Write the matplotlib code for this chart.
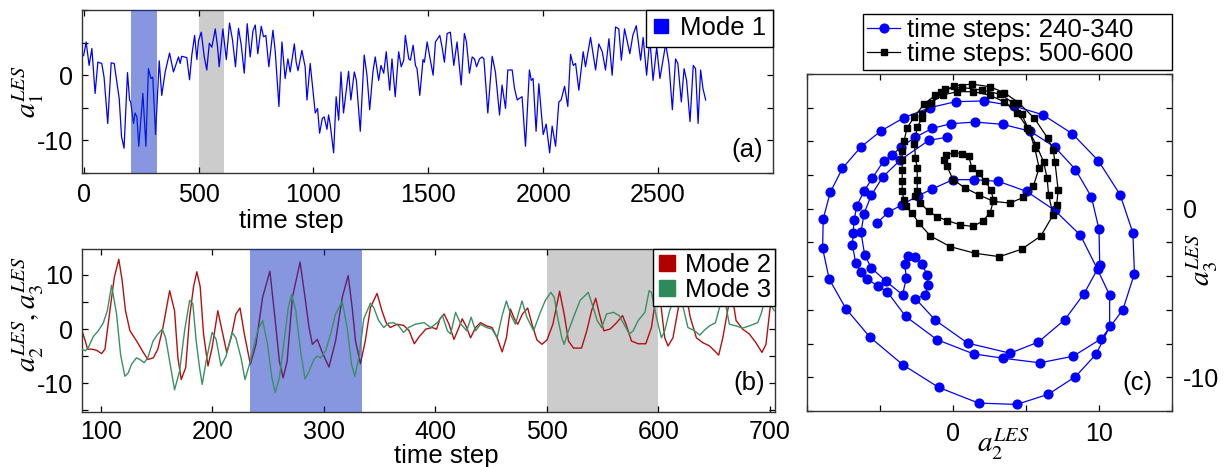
import matplotlib
matplotlib.use('Agg')
import matplotlib.pyplot as plt
from matplotlib.lines import Line2D

plt.rcParams['font.family'] = ['Liberation Sans', 'DejaVu Sans']
plt.rcParams['mathtext.fontset'] = 'stix'

# ---------------- data: panel (a) mode 1 ----------------
mode1_t = [0, 11, 24, 36, 50, 62, 79, 89, 105, 120, 133, 155, 165, 176, 191, 200, 205, 217, 224, 232,
           240, 258, 271, 282, 293, 301, 313, 329, 340, 355, 374, 391, 413, 420, 427, 449, 461, 471,
           483, 493, 500, 512, 525, 536, 547, 558, 573, 583, 590, 606, 621, 635, 648, 661, 674, 686,
           699, 712, 725, 737, 747, 758, 773, 783, 793, 806, 824, 834, 850, 863, 877, 889, 899, 917,
           925, 933, 950, 964, 972, 986, 1001, 1008, 1018, 1027, 1039, 1047, 1059, 1066, 1073, 1088,
           1099, 1110, 1120, 1131, 1153, 1163, 1178, 1187, 1204, 1221, 1233, 1245, 1259, 1269, 1284,
           1294, 1306, 1317, 1332, 1342, 1356, 1371, 1382, 1393, 1400, 1415, 1422, 1434, 1444, 1451,
           1463, 1477, 1483, 1495, 1509, 1521, 1531, 1550, 1560, 1570, 1582, 1596, 1611, 1625, 1643,
           1657, 1666, 1679, 1691, 1701, 1710, 1723, 1734, 1742, 1759, 1778, 1792, 1810, 1821, 1836,
           1846, 1865, 1875, 1887, 1894, 1908, 1923, 1940, 1948, 1956, 1969, 1981, 2000, 2013, 2028,
           2039, 2054, 2068, 2078, 2093, 2107, 2119, 2131, 2141, 2155, 2174, 2184, 2206, 2228, 2242,
           2257, 2271, 2286, 2300, 2315, 2329, 2340, 2354, 2377, 2390, 2405, 2424, 2435, 2450, 2464,
           2478, 2494, 2508, 2533, 2547, 2562, 2576, 2586, 2601, 2613, 2624, 2639, 2653, 2663, 2674,
           2685, 2695, 2707]
mode1_v = [3.0, 5.1, 1.5, 4.1, -2.8, 2.0, 1.8, -0.3, -7.4, 1.9, 1.8, -3.6, -9.4, -11.2, 0.4, -3.8, -4.1,
           -7.4, -5.8, -6.4, -10.9, -2.8, -10.9, 1.0, -0.5, -0.3, -9.1, 2.2, -3.1, 0.5, 3.4, 0.5, 2.8,
           1.8, 2.9, 2.7, -0.7, 3.1, 6.1, 2.4, 5.3, 6.6, 2.8, 0.8, 4.9, 4.3, 7.1, 4.3, 1.3, 7.1, 2.4,
           8.0, 5.4, 1.3, 7.2, 4.6, 0.3, 7.9, 2.8, 6.8, 7.7, 3.3, 7.5, 5.9, 6.1, 1.3, 6.9, 3.6, -4.8,
           5.1, -0.5, 2.5, 0.5, 4.8, 2.0, 0.7, 3.8, 1.3, -3.8, 1.8, -3.3, -5.8, -5.1, -8.9, -6.6, -6.4,
           -8.3, -6.1, -7.5, -11.9, -3.3, -6.9, 0.5, -5.8, 0.6, -3.8, 0.5, -0.8, -8.6, 3.1, 0.0, -5.3,
           0.5, 2.8, -0.8, 1.5, 0.3, 3.6, -2.3, 2.5, -3.3, 3.6, 1.3, 2.3, 6.1, 2.5, 2.3, 4.6, 1.5, 1.0,
           -3.1, 2.4, 2.0, 5.1, 2.3, 0.0, 5.1, 6.1, 4.3, 2.0, 6.4, 6.6, 1.5, 5.1, -1.5, 6.4, 5.1, 0.3,
           2.8, 2.5, 1.3, 2.5, 2.8, 2.5, -5.8, 2.9, 0.5, -6.1, -1.5, -5.1, 0.8, 0.8, -2.0, -3.8, -3.6,
           -3.3, -10.9, 0.8, -0.8, -0.5, -8.6, -1.3, -9.1, -7.5, -11.9, -7.8, -10.9, -4.1, -3.8, -1.7,
           -4.8, 3.2, 1.5, 1.8, -2.3, 3.6, 1.3, 5.8, 0.8, 4.8, 3.6, 0.8, 5.6, 0.0, 7.4, 7.1, 2.3, 7.1,
           3.3, 6.1, 7.6, 2.3, 5.8, 0.0, 5.6, -0.8, 4.3, -0.5, 4.8, 1.8, -5.3, 2.5, 1.8, -4.1, 1.0,
           -0.8, -7.1, 1.5, 1.0, -7.4, 0.8, -2.0, -3.8]

# ---------------- data: panel (b) modes 2 and 3 ----------------
mode2_t = [83, 86, 88, 92, 96, 100.6, 103.6, 108, 112, 116, 119, 122, 126, 132, 138, 142, 147, 151,
           155.6, 161.6, 166, 169, 172, 176, 179.5, 183, 186, 189, 192, 196, 199.7, 204.8, 208.6,
           212.8, 216.7, 221, 224.7, 228.6, 234, 239, 245, 251.5, 256, 260, 263.4, 267, 271.7, 278.6,
           283, 286.6, 289.6, 294, 298.5, 304.5, 310.4, 316.4, 321.7, 325.3, 328.3, 332.7, 337, 341.7,
           347.6, 352, 355.7, 359.5, 365.5, 371.4, 376.4, 381, 385.4, 391.3, 397, 401, 404, 407.7,
           412, 416.6, 421, 424, 428, 431.5, 436, 440.4, 445.8, 450.8, 455.3, 459.8, 463.6, 467.2,
           470.8, 473.8, 478, 482.7, 486.6, 491, 495.5, 500, 505.3, 511.3, 515.4, 519.3, 523.8, 531,
           535.7, 540, 543.7, 547, 551, 556.5, 562.5, 567.8, 571.4, 575.8, 581.8, 588.6, 593.7,
           597.6, 600.5, 603, 605.6, 608.6, 613, 619, 622.5, 626, 628.5, 634, 639.8, 645.8, 651.7,
           654, 657.7, 662, 665.5, 669.6, 675.5, 681.5, 687.4, 692.8, 696.4, 700, 704]
mode2_v = [-0.3, -2.2, -3.7, -3.7, -3.9, -4.5, -3.7, 3.4, 9.6, 12.9, 9.0, 3.4, -0.3, -2.2, -4.3, -5.6,
           -5.3, -3.7, 0.3, 7.1, 3.4, -5.3, -9.3, -7.1, 2.2, 7.8, 10.6, 7.8, -0.9, -6.8, -3.4, 3.4,
           -0.3, -4.3, -1.6, 2.8, 3.9, -0.9, -6.5, -2.8, 5.9, 10.7, 2.2, -5.9, -9.0, -5.9, 5.9, 12.4,
           5.9, 0.3, -2.8, -1.9, -4.3, -7.0, -2.2, 5.9, 9.9, 4.0, -2.2, -6.4, -2.2, 4.0, 6.6, 3.4, 1.2,
           0.3, 0.9, 0.7, -0.3, -2.7, -1.4, 0.0, 0.3, 0.0, 1.9, 2.8, 1.0, -1.9, 0.3, 1.9, 0.3, -1.6,
           0.3, 1.2, 0.6, 0.3, -1.6, -4.2, -1.6, 3.7, 1.9, 0.9, 2.8, 3.9, 0.9, -2.0, -2.8, -2.0, 0.9,
           7.0, 2.8, -2.2, -3.5, -3.5, -0.3, 3.4, 5.7, 2.8, -0.3, 0.0, 1.2, 2.5, 0.6, -2.2, -2.7, -2.7,
           0.3, 5.9, 8.0, 3.0, -1.6, -3.1, -1.6, 5.3, 8.0, 5.0, 2.2, -1.6, -2.5, -3.1, -4.3, -4.8,
           -1.6, 3.4, 7.0, 1.6, 0.0, -0.9, -2.5, -4.3, -2.8, 3.7, 9.0]
mode3_t = [83, 86, 88.7, 93, 97.6, 102, 105.7, 109.5, 114, 117.6, 121.4, 124.4, 127.4, 131.8, 134.8,
           138.7, 142, 146.7, 151, 155, 158, 161.6, 166, 170.5, 175, 179.5, 182.4, 185.4, 188.4,
           190.8, 194.3, 199.7, 203.3, 207.7, 212.2, 217.6, 221, 225.6, 229.2, 234, 240.5, 245,
           249.4, 253.3, 256.3, 260, 264.3, 268, 271, 274.7, 279, 283, 286.6, 291, 294, 297, 301.5,
           306, 310.4, 316.4, 320.8, 324.7, 327.7, 331.3, 335.7, 341.7, 344.6, 349, 353.6, 358,
           362.5, 367, 371.4, 375.9, 381.8, 389.8, 395.8, 401.7, 406.2, 410.7, 413.6, 418, 422.6,
           428, 432, 436, 440.4, 445.8, 450.8, 455.3, 459.8, 463.6, 467.8, 471.7, 477.6, 482, 488,
           494, 498.5, 503.5, 506.5, 509.5, 513.3, 515.4, 519.3, 523.8, 529.7, 537, 541, 545, 549,
           553.5, 559.5, 564.8, 569.9, 573.8, 577.3, 581.8, 587.8, 591.6, 593.7, 598.2, 602.6,
           605.6, 610, 613, 617, 621, 626.4, 632.4, 636.9, 642.2, 645.8, 651.1, 654.7, 658, 660.7,
           663.6, 669.6, 675.5, 681.5, 689, 692, 695, 699, 702, 704]
mode3_v = [-3.7, -4.0, -3.4, -1.4, -0.3, 1.1, 3.4, 8.1, 2.8, -4.7, -8.7, -8.1, -6.5, -5.3, -5.6, -6.2,
           -5.3, -2.2, -0.9, 0.0, -1.6, -5.9, -11.2, -7.8, -0.3, 5.3, 4.7, -2.2, -7.1, -10.2, -5.9,
           -0.6, -1.9, -6.8, -5.0, -0.6, -1.6, -5.3, -9.3, -5.9, -0.3, 1.6, -2.8, -9.0, -11.7, -9.0,
           -2.2, 4.0, 6.4, 3.4, -4.0, -9.2, -7.8, -5.6, -5.0, -5.3, -4.0, -0.9, 2.8, 5.1, 0.3, -6.5,
           -8.7, -5.3, 1.9, 4.8, 4.0, 1.6, 0.3, 1.1, 1.2, 0.6, -0.6, 0.3, 0.9, 1.2, 0.3, 1.2, 2.5,
           -0.3, -0.9, 3.1, 1.0, -0.3, 2.2, -0.3, 0.9, 0.3, 0.0, -1.6, 2.5, 5.2, 2.5, 0.9, 5.2, 2.2,
           -0.3, 3.1, 5.3, 6.8, 5.9, 2.2, -1.6, -2.8, -0.3, 2.2, 5.3, 6.8, 4.3, 1.6, 0.3, 2.8, 3.1,
           2.5, 0.6, -0.9, -0.3, 1.6, 3.1, 7.1, 6.8, 2.2, -1.6, -0.3, 3.4, 5.1, 7.0, 5.0, 0.3, -0.3,
           -1.1, 0.0, 0.6, 1.2, 4.0, 6.5, 4.0, 0.9, 0.6, 0.2, 0.6, 1.2, 2.8, 5.0, 7.0, 4.0, 3.4]

# ---------------- data: panel (c) phase portraits ----------------
steps240_a2 = [-5.18, -4.43, -3.48, -2.39, -1.43, 0.0, 1.41, 3.11, 5.05, 6.98, 8.73, 9.9, 10.73, 10.73,
               9.82, 8.39, 6.52, 4.36, 1.75, -0.98, -3.43, -5.7, -7.34, -8.48, -8.93, -8.89, -8.41,
               -7.57, -6.32, -4.95, -3.36, -1.6, 0.2, 2.14, 4.2, 6.18, 8.18, 9.95, 11.45, 12.32, 12.43,
               11.64, 10.16, 8.23, 5.95, 3.45, 1.41, -1.09, -3.25, -4.5, -5.14, -5.86, -6.32, -6.66,
               -6.89, -6.84, -6.77, -6.59, -6.09, -5.52, -4.73, -4.16, -3.59, -2.57, -1.43, -0.14, 1.52,
               3.41, 5.27, 6.98, 8.39, 9.48, 10.0, 10.05, 8.98, 7.66, 5.84, 3.91, 1.0, -1.2, -2.57,
               -1.9, -1.7, -1.8, -2.1, -2.6, -3.1, -3.3, -3.2, -3.45, -4.6, -5.6, -6.05, -6.3, -6.1,
               -5.6, -4.8, -3.6, -1.66, -0.41]
steps240_a3 = [-0.82, -0.2, 0.24, 0.78, 1.17, 1.73, 1.73, 1.63, 1.03, -0.1, -1.57, -3.6, -5.13, -6.98,
               -8.61, -9.96, -11.01, -11.61, -11.53, -10.6, -9.26, -7.61, -5.92, -4.17, -2.35, -0.6,
               0.97, 2.41, 3.66, 4.61, 5.41, 6.0, 6.36, 6.4, 6.1, 5.57, 4.45, 2.86, 0.83, -1.43, -3.84,
               -5.98, -7.71, -8.75, -9.14, -8.87, -8.61, -7.77, -6.38, -4.93, -4.59, -4.17, -3.74,
               -3.24, -2.15, -1.45, -0.66, 0.18, 1.05, 1.83, 2.86, 3.18, 3.66, 4.25, 4.77, 5.05, 5.15,
               5.01, 4.61, 3.66, 2.33, 0.7, -1.21, -3.34, -5.03, -6.58, -7.91, -8.57, -7.97, -6.62,
               -5.33, -5.1, -4.5, -3.9, -3.3, -2.85, -2.8, -3.3, -4.1, -5.1, -4.3, -3.5, -2.74, -1.4,
               -0.3, 0.8, 1.9, 2.9, 4.06, 4.25]
steps500_a2 = [-2.1, -1.5, -0.7, 0.3, 1.4, 2.5, 3.5, 4.4, 5.1, 5.7, 6.2, 6.45, 6.55, 6.86,
               6.02, 4.7, 3.18, 1.52, -0.18, -1.55, -2.34, -2.8, -3.25, -3.36, -3.48, -3.48, -3.48,
               -3.48, -3.48, -3.36, -3.14, -2.65, -2.0, -1.2, -0.52, 0.61, 1.98, 3.23, 4.1, 4.7, 5.2,
               5.6, 5.9, 5.5,
               4.82, 3.9, 2.77, 1.75, 0.84, 0.0, -0.41, -0.64, -0.45, 0.05, 0.61, 1.07, 1.3, 1.75, 2.2,
               2.6, 2.77, 2.55, 2.05, 1.36, 0.5, -0.41, -1.09, -1.66, -2.23, -2.57, -2.45, -2.45, -2.45,
               -2.57, -2.64, -2.45,
               -2.1, -1.5, -0.8, 0.1, 1.3, 2.5, 3.5, 4.48, 5.55, 6.48, 6.86, 6.98, 7.2, 7.1]
steps500_a3 = [5.6, 6.3, 6.75, 6.95, 6.95, 6.75, 6.35, 5.7, 4.8, 3.8, 2.8, 1.8, 0.8, -0.36,
               -1.61, -2.4, -2.84, -2.64, -2.25, -1.61, -0.85, -0.26, 0.14, 0.54, 1.03, 1.63, 2.33,
               2.92, 3.42, 4.02, 4.81, 5.45, 6.2, 6.75, 7.1, 7.2, 7.05, 6.8, 6.3, 5.6, 4.7,
               3.6, 2.43, 1.33,
               0.68, 0.34, 0.44, 0.84, 1.23, 1.73, 2.52, 2.92, 3.22, 3.32, 3.28, 3.12, 2.43, 2.13, 1.63,
               1.13, 0.5, -0.22, -0.72, -1.05, -0.95, -0.7, -0.46, -0.16, 0.34, 0.74, 1.03, 1.73, 2.43,
               3.02, 3.82, 4.85,
               5.4, 6.3, 6.95, 7.3, 7.4, 7.25, 6.9, 6.3, 5.4, 4.2, 3.5, 2.8, 1.13, 0.2]

band_a_blue = (205, 318)
band_a_grey = (500, 612)
band_b_blue = (234, 334)
band_b_grey = (500, 600)

# ---------------- figure ----------------
W, H = 1231, 467
fig = plt.figure(figsize=(W / 100, H / 100), dpi=100)

def frac(l, t, r, b):
    return [l / W, 1 - b / H, (r - l) / W, (b - t) / H]

TICK_FS = 18
LEG_FS = 18.5
BLUE_BAND = (15 / 255, 49 / 255, 193 / 255)
SPINE = '#333333'

def style(ax, xpad=5.5, ypad=6.5):
    ax.tick_params(direction='in', top=True, right=True, length=4.5, width=0.9,
                   labelsize=TICK_FS, colors='black')
    ax.tick_params(axis='x', pad=xpad)
    ax.tick_params(axis='y', pad=ypad)
    for s in ax.spines.values():
        s.set_color(SPINE)
        s.set_linewidth(1.0)

def frame(leg):
    leg.get_frame().set_edgecolor('black')
    leg.get_frame().set_linewidth(1.0)
    leg.set_zorder(10)

# ---- panel (a)
axa = fig.add_axes(frac(82, 10, 773, 173))
axa.axvspan(*band_a_grey, color='#cccccc', lw=0, zorder=1)
axa.plot(mode1_t, mode1_v, color='#0000ff', lw=0.9, zorder=2)
axa.axvspan(*band_a_blue, color=BLUE_BAND, alpha=0.5, lw=0, zorder=3)
axa.set_xlim(-7, 3000)
axa.set_ylim(-15, 10)
axa.set_xticks([0, 500, 1000, 1500, 2000, 2500])
axa.set_yticks([-15, -10, -5, 0, 5, 10])
axa.set_yticklabels(['', '-10', '', '0', '', ''])
style(axa, xpad=7.5)
axa.set_ylabel(r'$a_1^{LES}$', fontsize=21)
axa.yaxis.set_label_coords(-0.052, 0.5)
fig.text(291 / W, 1 - 221 / H, 'time step', fontsize=18.5, ha='center', va='center')
axa.text(0.985, 0.14, '(a)', transform=axa.transAxes, fontsize=18.5, ha='right', va='center')
leg = axa.legend(handles=[Line2D([], [], ls='none', marker='s', ms=9.5, color='#0000ff')],
                 labels=['Mode 1'], loc='upper right', borderaxespad=0, fontsize=LEG_FS,
                 handlelength=0.7, handletextpad=0.4, borderpad=0.25, fancybox=False,
                 framealpha=1)
frame(leg)

# ---- panel (b)
RED = '#b41010'
GREEN = '#3a9064'
axb = fig.add_axes(frac(82, 249, 775, 412))
axb.axvspan(*band_b_grey, color='#cccccc', lw=0, zorder=1)
axb.plot(mode2_t, mode2_v, color=RED, lw=1.0, zorder=2)
axb.axvspan(*band_b_blue, color=BLUE_BAND, alpha=0.5, lw=0, zorder=3)
axb.plot(mode3_t, mode3_v, color=GREEN, lw=1.0, zorder=4)
axb.set_xlim(83, 704.5)
axb.set_ylim(-15.3, 14.8)
axb.set_xticks([100, 200, 300, 400, 500, 600, 700])
axb.set_yticks([-15, -10, -5, 0, 5, 10])
axb.set_yticklabels(['', '-10', '', '0', '', '10'])
style(axb, xpad=5.5)
axb.set_ylabel(r'$a_2^{LES},a_3^{LES}$', fontsize=21)
axb.yaxis.set_label_coords(-0.052, 0.6)
fig.text(446 / W, 1 - 456 / H, 'time step', fontsize=18.5, ha='center', va='center')
axb.text(0.985, 0.176, '(b)', transform=axb.transAxes, fontsize=18.5, ha='right', va='center')
legb = axb.legend(handles=[Line2D([], [], ls='none', marker='s', ms=11, color='#b00000'),
                           Line2D([], [], ls='none', marker='s', ms=11, color='#2e8b57')],
                  labels=['Mode 2', 'Mode 3'], loc='upper right', borderaxespad=0,
                  fontsize=LEG_FS, handlelength=0.8, handletextpad=0.3, borderpad=0.15,
                  labelspacing=0.05, fancybox=False, framealpha=1)
frame(legb)

# ---- panel (c)
axc = fig.add_axes(frac(807, 74, 1172, 411))
axc.plot(steps240_a2, steps240_a3, '-o', color='#0000ff', lw=0.9, ms=6.3,
         label='time steps: 240-340', zorder=2)
axc.plot(steps500_a2, steps500_a3, '-s', color='black', lw=0.9, ms=4.8,
         label='time steps: 500-600', zorder=3)
axc.set_xlim(-10, 15)
axc.set_ylim(-12, 8)
axc.set_xticks([-10, -5, 0, 5, 10, 15])
axc.set_xticklabels(['', '', '0', '', '10', ''])
axc.set_yticks([-12, -10, -8, -6, -4, -2, 0, 2, 4, 6, 8])
axc.set_yticklabels(['', '-10', '', '', '', '', '0', '', '', '', ''])
style(axc, xpad=8, ypad=8)
axc.tick_params(labelleft=False, labelright=True)
axc.yaxis.set_label_position('right')
axc.set_ylabel(r'$a_3^{LES}$', fontsize=21)
axc.yaxis.set_label_coords(1.035, 0.45)
axc.set_xlabel(r'$a_2^{LES}$', fontsize=21)
axc.xaxis.set_label_coords(0.538, -0.045)
axc.text(0.905, 0.083, '(c)', transform=axc.transAxes, fontsize=18.5, ha='center', va='center')
legc = axc.legend(loc='lower left', bbox_to_anchor=(0.154, 1.012, 0.846, 0.17), mode='expand',
                  borderaxespad=0, fontsize=LEG_FS, handlelength=1.3, handletextpad=0.25,
                  borderpad=0.15, labelspacing=0.0, fancybox=False, framealpha=1)
frame(legc)

fig.savefig('out.png', dpi=100)
